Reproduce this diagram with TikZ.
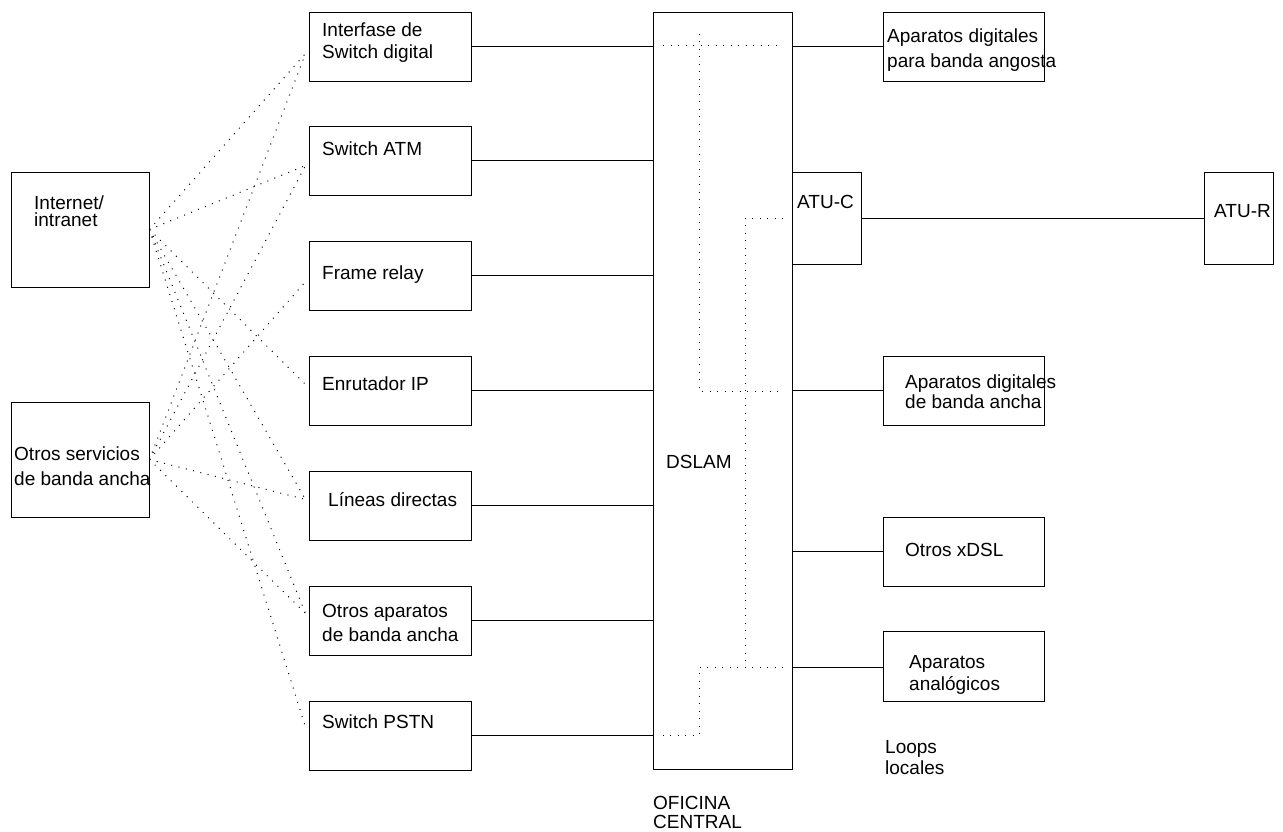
\documentclass[tikz,border=0pt]{standalone}
\usepackage{fontspec}
\setmainfont{Liberation Sans}
\usetikzlibrary{calc}
\newcommand{\lblsize}[1]{\fontsize{19}{#1}\selectfont}
\begin{document}
\begin{tikzpicture}[x=1pt,y=-1pt,
  box/.style={draw, line width=0.9pt, inner sep=0pt, minimum width=162pt, minimum height=69pt},
  lbl/.style={anchor=base west, inner sep=0pt, align=left},
  wire/.style={line width=0.9pt},
  dots/.style={line width=1pt, dash pattern=on 1pt off 6.5pt}]
\useasboundingbox (0,0) rectangle (1283,832);

% sources on the far left
\node[box, minimum width=138pt, minimum height=115pt] (inet) at (80,229.5) {};
\node[box, minimum width=138pt, minimum height=115pt] (otros) at (80,459.5) {};

% service boxes
\node[box] (b1) at (390,46.5) {};
\node[box] (b2) at (390,160.5) {};
\node[box] (b3) at (390,275.5) {};
\node[box] (b4) at (390,390.5) {};
\node[box] (b5) at (390,505.5) {};
\node[box] (b6) at (390,620.5) {};
\node[box] (b7) at (390,735.5) {};

% central office multiplexer
\node[box, minimum width=139pt, minimum height=757pt] (dslam) at (722.5,390.5) {};

% loop side
\node[box, minimum width=161pt] (ang) at (963.5,46.5) {};
\node[box, minimum width=69pt, minimum height=92pt] (atuc) at (826.5,218) {};
\node[box, minimum width=69pt, minimum height=92pt] (atur) at (1238.5,218) {};
\node[box, minimum width=161pt] (ancha) at (963.5,390.5) {};
\node[box, minimum width=161pt] (xdsl) at (963.5,551.5) {};
\node[box, minimum width=161pt, minimum height=70pt] (analog) at (963.5,666) {};

% labels (multi-line labels are placed by the baseline of their last line)
\node[lbl, font=\lblsize{17}] (tinet) at (34,226) {Internet/\\intranet};
\node[lbl, font=\lblsize{25}] (totros) at (14,485) {Otros servicios\\de banda ancha};
\node[lbl, font=\lblsize{22}] (t1) at (322,59) {Interfase de\\Switch digital};
\node[lbl, font=\lblsize{22}] (t2) at (322,156) {Switch ATM};
\node[lbl, font=\lblsize{22}] (t3) at (322,279) {Frame relay};
\node[lbl, font=\lblsize{22}] (t4) at (322,390) {Enrutador IP};
\node[lbl, font=\lblsize{22}] (t5) at (328,506) {Líneas directas};
\node[lbl, font=\lblsize{24}] (t6) at (322,641) {Otros aparatos\\de banda ancha};
\node[lbl, font=\lblsize{22}] (t7) at (322,728) {Switch PSTN};
\node[lbl, font=\lblsize{22}] (tdslam) at (666,468) {DSLAM};
\node[lbl, font=\lblsize{25}] (tang) at (887,68) {Aparatos digitales\\para banda angosta};
\node[lbl, font=\lblsize{22}] (tatuc) at (797,208) {ATU-C};
\node[lbl, font=\lblsize{22}] (tatur) at (1214,218) {ATU-R};
\node[lbl, font=\lblsize{20}] (tancha) at (905,408) {Aparatos digitales\\de banda ancha};
\node[lbl, font=\lblsize{22}] (txdsl) at (905,556) {Otros xDSL};
\node[lbl, font=\lblsize{22}] (tanalog) at (909,690) {Aparatos\\analógicos};
\node[lbl, font=\lblsize{21}] (tloops) at (885,774) {Loops\\locales};
\node[lbl, font=\lblsize{19}] (tofi) at (653,828) {OFICINA\\CENTRAL};

% services into the DSLAM
\foreach \b in {b1,b2,b3,b4,b5,b6,b7}
  \draw[wire] (\b.east) -- (\b.east -| dslam.west);

% DSLAM out to the local loops
\foreach \r in {ang,ancha,xdsl}
  \draw[wire] (\r.west -| dslam.east) -- (\r.west);
\draw[wire] ([yshift=-1pt]analog.west -| dslam.east) -- ([yshift=-1pt]analog.west);
\draw[wire] (atuc.east) -- (atur.west);

% internal paths through the DSLAM
\draw[dots] (663,46) -- (783,46);
\draw[dots] (699,34) -- (699,391) -- (783,391);
\draw[dots] (783,218) -- (745,218) -- (745,667);
\draw[dots] (783,667) -- (699,667) -- (699,735) -- (663,735);

% links from the sources to the services
\foreach \b/\s in {b1/-7,b2/-5,b4/6,b5/6,b6/7,b7/8}
  \draw[dots] (inet.east) -- ([xshift=-3pt,yshift=\s pt]\b.west);
\foreach \b/\s in {b1/-7,b2/-5,b3/-6,b5/6,b6/7}
  \draw[dots] (otros.east) -- ([xshift=-3pt,yshift=\s pt]\b.west);
\end{tikzpicture}
\end{document}
